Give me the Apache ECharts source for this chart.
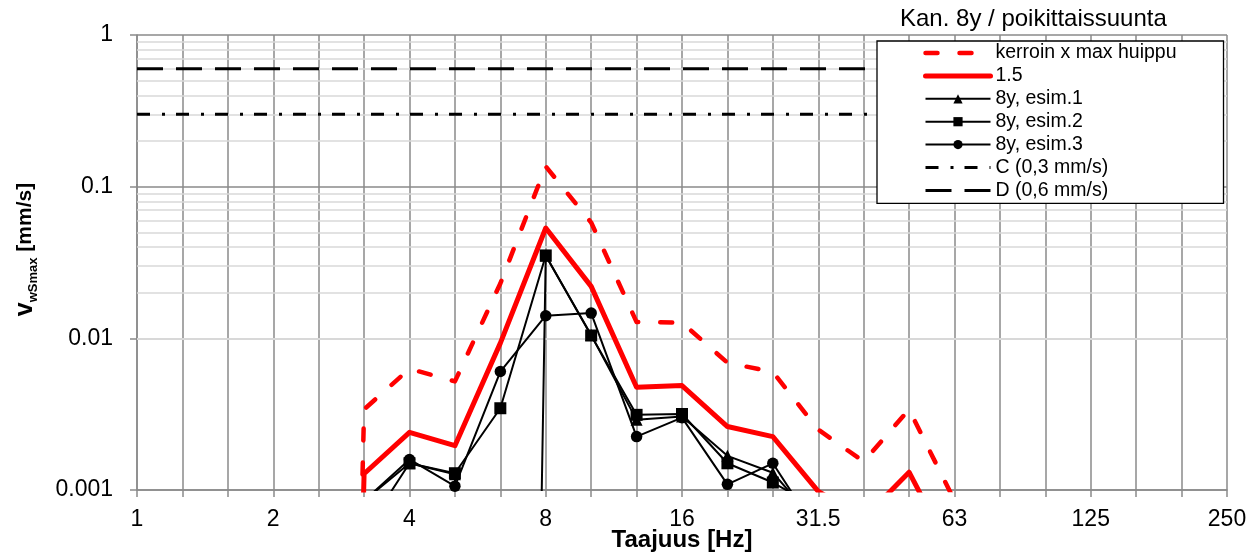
<!DOCTYPE html>
<html>
<head>
<meta charset="utf-8">
<script src="https://cdn.jsdelivr.net/npm/echarts@6/dist/echarts.min.js"></script>
<style>
  html, body { margin: 0; padding: 0; background: #fff; }
  #chart { width: 1260px; height: 557px; }
</style>
</head>
<body>
<div id="chart"></div>
<script>
// 1/3-octave band centre frequencies (Hz)
const bands = ['1','1.25','1.6','2','2.5','3.15','4','5','6.3','8','10','12.5','16','20','25','31.5','40','50','63','80','100','125','160','200','250'];
const yTickLabels = ['0.001', '0.01', '0.1', '1'];
const minorGridValues = [0.002,0.003,0.004,0.005,0.006,0.007,0.008,0.009,
                         0.02,0.03,0.04,0.05,0.06,0.07,0.08,0.09,
                         0.2,0.3,0.4,0.5,0.6,0.7,0.8,0.9];

const seriesNames = ['kerroin x max huippu', '1.5', '8y, esim.1', '8y, esim.2', '8y, esim.3', 'C (0,3 mm/s)', 'D (0,6 mm/s)'];

const kerroinMax = [null,null,null,null,1e-15,0.0034,0.0063,0.0052,0.023,0.136,0.058,0.0128,0.0127,0.0069,0.0060,0.0025,0.00154,0.0034,0.00085,null,null,null,null,null,null];
const level15    = [null,null,null,null,1e-15,0.00128,0.0024,0.00196,0.0093,0.0534,0.022,0.00476,0.00488,0.00262,0.00225,0.00098,0.00065,0.00131,0.00035,null,null,null,null,null,null];
const esim1      = [null,null,null,null,null,0.00085,0.0015,0.00127,1e-19,0.035,0.0105,0.0029,0.00305,0.00168,0.0013,0.00059,null,null,null,null,null,null,null,null,null];
const esim2      = [null,null,null,null,null,0.00052,0.0015,0.00129,0.00346,0.0352,0.01044,0.00313,0.00317,0.0015,0.00112,0.00076,null,null,null,null,null,null,null,null,null];
const esim3      = [null,null,null,null,null,0.00085,0.00159,0.00106,0.00604,0.0141,0.01467,0.00225,0.0030,0.00109,0.0015,0.00052,null,null,null,null,null,null,null,null,null];
const limitC     = [0.3,0.3,0.3,0.3,0.3,0.3,0.3,0.3,0.3,0.3,0.3,0.3,0.3,0.3,0.3,0.3,0.3,0.3,0.3,0.3,0.3,0.3,0.3,0.3,0.3];
const limitD     = [0.6,0.6,0.6,0.6,0.6,0.6,0.6,0.6,0.6,0.6,0.6,0.6,0.6,0.6,0.6,0.6,0.6,0.6,0.6,0.6,0.6,0.6,0.6,0.6,0.6];

const FONT = "'Liberation Sans', Arial, sans-serif";
const GRID_DARK = '#8a8a8a';
const GRID_LIGHT = '#d9d9d9';
const RED = '#ff0000';

const styleRedDash = { color: RED, width: 4.5, type: [12, 22], cap: 'round', join: 'round' };
const styleRedSolid = { color: RED, width: 5, cap: 'round', join: 'round' };
const styleBlack = { color: '#000', width: 2 };
const styleC = { color: '#000', width: 3, type: [13, 12, 3, 11], cap: 'butt' };
const styleD = { color: '#000', width: 3, type: [26, 13], cap: 'butt' };

const chart = echarts.init(document.getElementById('chart'), null, { renderer: 'canvas' });

function blackSeries(name, data, symbol, size) {
  return {
    name, type: 'line', data, z: 4,
    symbol, symbolSize: size, showSymbol: true,
    itemStyle: { color: '#000' },
    lineStyle: styleBlack,
    emphasis: { disabled: true },
    clip: true
  };
}

const option = {
  animation: false,
  backgroundColor: '#fff',
  textStyle: { fontFamily: FONT },
  title: {
    text: 'Kan. 8y / poikittaissuunta',
    left: 900, top: 7, padding: 0,
    textStyle: { fontFamily: FONT, fontSize: 24, fontWeight: 'normal', color: '#000' }
  },
  legend: {
    orient: 'vertical',
    left: 877, top: 41,
    padding: [2, 47, 3, 46],
    itemGap: 2.9,
    itemWidth: 65,
    itemHeight: 11.5,
    backgroundColor: '#fff',
    borderColor: '#000',
    borderWidth: 1.3,
    borderRadius: 0,
    selectedMode: false,
    z: 10,
    textStyle: { fontFamily: FONT, fontSize: 19.5, color: '#000' },
    data: [
      { name: seriesNames[0], lineStyle: styleRedDash, itemStyle: { opacity: 0 } },
      { name: seriesNames[1], lineStyle: styleRedSolid, itemStyle: { opacity: 0 } },
      { name: seriesNames[2], lineStyle: styleBlack, itemStyle: { color: '#000' } },
      { name: seriesNames[3], lineStyle: styleBlack, itemStyle: { color: '#000' } },
      { name: seriesNames[4], lineStyle: styleBlack, itemStyle: { color: '#000' } },
      { name: seriesNames[5], lineStyle: styleC, itemStyle: { opacity: 0 } },
      { name: seriesNames[6], lineStyle: styleD, itemStyle: { opacity: 0 } }
    ]
  },
  grid: { left: 137, right: 33, top: 35, bottom: 67, containLabel: false, outerBoundsMode: 'none' },
  xAxis: {
    type: 'category',
    data: bands,
    boundaryGap: false,
    name: 'Taajuus [Hz]',
    nameLocation: 'middle',
    nameGap: 38,
    nameMoveOverlap: false,
    nameTextStyle: { fontFamily: FONT, fontSize: 24, fontWeight: 'bold', color: '#000' },
    axisLine: { lineStyle: { color: GRID_DARK, width: 1.5 } },
    axisTick: { show: true, interval: 0, length: 7, lineStyle: { color: GRID_DARK, width: 1.5 } },
    axisLabel: {
      interval: 0, margin: 18,
      fontFamily: FONT, fontSize: 23, color: '#000',
      formatter: (v, i) => (i % 3 === 0 ? v : '')
    },
    splitLine: { show: true, interval: 0, lineStyle: { color: GRID_DARK, width: 1.5 } }
  },
  yAxis: {
    type: 'log',
    logBase: 10,
    min: 0.001, max: 1,
    name: '{v|v}{s|wSmax}{u| [mm/s]}',
    nameLocation: 'middle',
    nameGap: 97,
    nameMoveOverlap: false,
    nameTextStyle: {
      fontFamily: FONT, fontWeight: 'bold', color: '#000',
      padding: [0, 0, 0, 26],
      rich: {
        v: { fontFamily: FONT, fontSize: 25, fontWeight: 'bold', color: '#000', lineHeight: 30, verticalAlign: 'middle' },
        s: { fontFamily: FONT, fontSize: 13, fontWeight: 'bold', color: '#000', lineHeight: 14, verticalAlign: 'bottom' },
        u: { fontFamily: FONT, fontSize: 21, fontWeight: 'bold', color: '#000', lineHeight: 30, verticalAlign: 'middle' }
      }
    },
    axisLine: { show: true, lineStyle: { color: GRID_DARK, width: 1.5 } },
    axisTick: { show: true, length: 7, lineStyle: { color: GRID_DARK, width: 1.5 } },
    axisLabel: {
      margin: 24, fontFamily: FONT, fontSize: 23, color: '#000',
      formatter: v => yTickLabels[Math.round(Math.log10(v)) + 3]
    },
    splitLine: { show: true, lineStyle: { color: GRID_DARK, width: 1.5 } }
  },
  series: [
    {
      name: '_minorGrid', type: 'line', data: [], z: 1, silent: true,
      markLine: {
        z: 1,
        silent: true, symbol: ['none', 'none'], animation: false,
        label: { show: false },
        lineStyle: { color: GRID_LIGHT, width: 1.5, type: 'solid' },
        emphasis: { disabled: true },
        data: minorGridValues.map(v => ({ yAxis: v }))
      }
    },
    {
      name: seriesNames[0], type: 'line', data: kerroinMax, z: 3,
      symbol: 'none', clip: true,
      itemStyle: { color: RED },
      lineStyle: styleRedDash,
      emphasis: { disabled: true }
    },
    {
      name: seriesNames[1], type: 'line', data: level15, z: 3,
      symbol: 'none', clip: true,
      itemStyle: { color: RED },
      lineStyle: styleRedSolid,
      emphasis: { disabled: true }
    },
    blackSeries(seriesNames[2], esim1, 'triangle', 12),
    blackSeries(seriesNames[3], esim2, 'rect', 12),
    blackSeries(seriesNames[4], esim3, 'circle', 11.5),
    {
      name: seriesNames[5], type: 'line', data: limitC, z: 3,
      symbol: 'none', clip: true,
      itemStyle: { color: '#000' },
      lineStyle: styleC,
      emphasis: { disabled: true }
    },
    {
      name: seriesNames[6], type: 'line', data: limitD, z: 3,
      symbol: 'none', clip: true,
      itemStyle: { color: '#000' },
      lineStyle: styleD,
      emphasis: { disabled: true }
    }
  ]
};

chart.setOption(option);
</script>
</body>
</html>
